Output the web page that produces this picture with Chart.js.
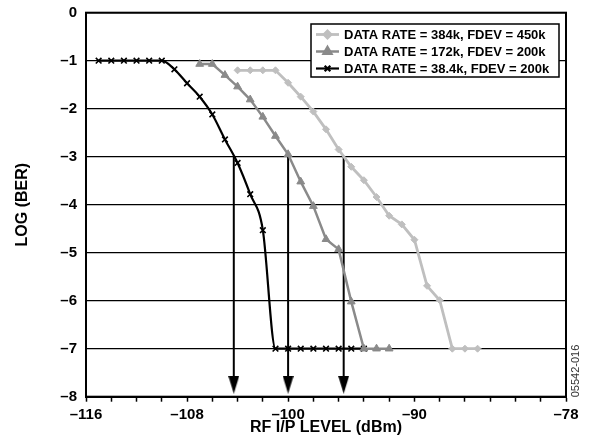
<!DOCTYPE html>
<html>
<head>
<meta charset="utf-8">
<script src="https://cdn.jsdelivr.net/npm/chart.js@4.4.1/dist/chart.umd.min.js"></script>
<style>
  body { margin: 0; background: #fff; }
  #wrap { width: 593px; height: 440px; }
</style>
</head>
<body>
<div id="wrap"><canvas id="ber" width="593" height="440"></canvas></div>
<script>
// Données
var labels = ['DATA RATE = 384k, FDEV = 450k', 'DATA RATE = 172k, FDEV = 200k', 'DATA RATE = 38.4k, FDEV = 200k']

var x384 = [-104, -103, -102, -101, -100, -99, -98, -97, -96, -95, -94, -93, -92, -91, -90, -89, -88, -87, -86, -85]
var y384 = [-1.2, -1.2, -1.2, -1.2, -1.46, -1.75, -2.06, -2.43, -2.85, -3.21, -3.49, -3.84, -4.23, -4.41, -4.73, -5.69, -5.99, -7, -7, -7]

var x172 = [-107, -106, -105, -104, -103, -102, -101, -100, -99, -98, -97, -96, -95, -94, -93, -92]
var y172 = [-1.07, -1.07, -1.3, -1.54, -1.81, -2.17, -2.57, -2.95, -3.52, -4.03, -4.72, -4.93, -6.02, -7, -7, -7]

var x38 = [-115, -114, -113, -112, -111, -110, -109, -108, -107, -106, -105, -104, -103, -102, -101, -100, -99, -98, -97, -96, -95, -94]
var y38 = [-1, -1, -1, -1, -1, -1, -1.18, -1.47, -1.75, -2.12, -2.64, -3.13, -3.78, -4.53, -7, -7, -7, -7, -7, -7, -7, -7]

// flèches de sensibilité (BER = 1E-3)
var arrowX = [-104.3, -100, -95.6]
var arrowTop = -3
var arrowEnd = -7.75

var xTickLabels = [-116, -108, -100, -90, -78]
var note = '05542-016'

// Fonctions
function points(xs, ys){
    var pts = []
    for (var i = 0; i < xs.length; i++){
        pts.push({x: xs[i], y: ys[i]})
    }
    return pts
}
function fmt(v){
    return v < 0 ? '\u2013' + Math.abs(v) : '' + v
}
function pointeFleche(){
    var c = document.createElement('canvas')
    c.width = 11
    c.height = 18
    var g = c.getContext('2d')
    g.fillStyle = '#000'
    g.beginPath()
    g.moveTo(0, 0)
    g.lineTo(11, 0)
    g.lineTo(5.5, 18)
    g.closePath()
    g.fill()
    return c
}
var fleche = pointeFleche()

var FONT = '"Liberation Sans", Arial, sans-serif'
var styles = [
    {color: '#bfbfbf', point: 'rectRot', radius: 3.5, width: 2.8},
    {color: '#8a8a8a', point: 'triangle', radius: 4.5, width: 2.5},
    {color: '#000000', point: 'crossRot', radius: 4, width: 2.2}
]

var datasets = [
    {label: labels[0], data: points(x384, y384)},
    {label: labels[1], data: points(x172, y172)},
    {label: labels[2], data: points(x38, y38), cubicInterpolationMode: 'monotone'}
]
datasets.forEach(function(ds, i){
    var s = styles[i]
    ds.borderColor = s.color
    ds.backgroundColor = s.color
    ds.borderWidth = s.width
    ds.pointStyle = s.point
    ds.pointRadius = s.radius
    ds.pointBorderWidth = i == 2 ? 1.6 : 1
    ds.pointBackgroundColor = s.color
    ds.pointBorderColor = s.color
})
arrowX.forEach(function(x){
    datasets.push({
        data: [{x: x, y: arrowTop}, {x: x, y: arrowEnd}],
        borderColor: '#000',
        borderWidth: 2,
        pointStyle: ['circle', fleche],
        pointRadius: [0, 6],
        pointBorderWidth: 0
    })
})

// cadre + légende + référence
var habillage = {
    id: 'habillage',
    afterDatasetsDraw: function(chart){
        var ctx = chart.ctx
        var a = chart.chartArea
        ctx.save()
        ctx.strokeStyle = '#000'
        ctx.lineWidth = 2
        ctx.strokeRect(a.left, a.top, a.right - a.left, a.bottom - a.top)

        // légende
        var bx = 311, by = 24, bw = 248, bh = 53
        ctx.fillStyle = '#fff'
        ctx.fillRect(bx, by, bw, bh)
        ctx.lineWidth = 1.5
        ctx.strokeRect(bx, by, bw, bh)
        ctx.font = 'bold 13px ' + FONT
        ctx.textBaseline = 'middle'
        ctx.textAlign = 'left'
        for (var i = 0; i < 3; i++){
            var ds = chart.data.datasets[i]
            var yy = by + 10.5 + i * 17
            ctx.strokeStyle = ds.borderColor
            ctx.lineWidth = ds.borderWidth
            ctx.beginPath()
            ctx.moveTo(bx + 5, yy)
            ctx.lineTo(bx + 28, yy)
            ctx.stroke()
            ctx.fillStyle = ds.pointBackgroundColor
            Chart.helpers.drawPoint(ctx, {pointStyle: ds.pointStyle, radius: ds.pointRadius, borderWidth: ds.pointBorderWidth, rotation: 0}, bx + 16.5, yy)
            ctx.fillStyle = '#000'
            ctx.fillText(ds.label, bx + 33, yy + 0.5)
        }

        // numéro de figure
        ctx.translate(576, 371)
        ctx.rotate(-Math.PI / 2)
        ctx.font = '11px ' + FONT
        ctx.fillStyle = '#333'
        ctx.textAlign = 'center'
        ctx.fillText(note, 0, 0)
        ctx.restore()
    }
}

var config = {
    type: 'line',
    data: {datasets: datasets},
    options: {
        responsive: false,
        animation: false,
        layout: {padding: {left: 0, right: 27, top: 12.7, bottom: 0}},
        plugins: {legend: {display: false}, tooltip: {enabled: false}},
        scales: {
            x: {
                type: 'linear',
                min: -116,
                max: -78,
                afterFit: function(s){ s.height = 43.3; s.paddingLeft = 0; s.paddingRight = 0 },
                border: {color: '#000', width: 2},
                grid: {drawOnChartArea: false, drawTicks: true, tickLength: 5, color: '#000', tickWidth: 1.5},
                ticks: {
                    stepSize: 2,
                    autoSkip: false,
                    maxRotation: 0,
                    padding: 4,
                    color: '#000',
                    font: {family: FONT, size: 15, weight: 'bold'},
                    callback: function(v){ return xTickLabels.indexOf(v) >= 0 ? fmt(v) : '' }
                },
                title: {
                    display: true,
                    text: 'RF I/P LEVEL (dBm)',
                    color: '#000',
                    font: {family: FONT, size: 16, weight: 'bold'},
                    padding: {top: 0, bottom: 2.4}
                }
            },
            y: {
                min: -8,
                max: 0,
                afterFit: function(s){ s.width = 86; s.paddingTop = 0; s.paddingBottom = 0 },
                border: {color: '#000', width: 2},
                grid: {color: '#000', lineWidth: 1.3, drawTicks: false},
                ticks: {
                    stepSize: 1,
                    padding: 9,
                    color: '#000',
                    font: {family: FONT, size: 15, weight: 'bold'},
                    callback: function(v){ return fmt(v) }
                },
                title: {
                    display: true,
                    text: 'LOG (BER)',
                    color: '#000',
                    font: {family: FONT, size: 16, weight: 'bold'},
                    padding: {top: 12.5, bottom: 0}
                }
            }
        }
    },
    plugins: [habillage]
}

window.onload = function(){
    var ctx = document.getElementById('ber').getContext('2d')
    var graphe = new Chart(ctx, config)
}
</script>
</body>
</html>
